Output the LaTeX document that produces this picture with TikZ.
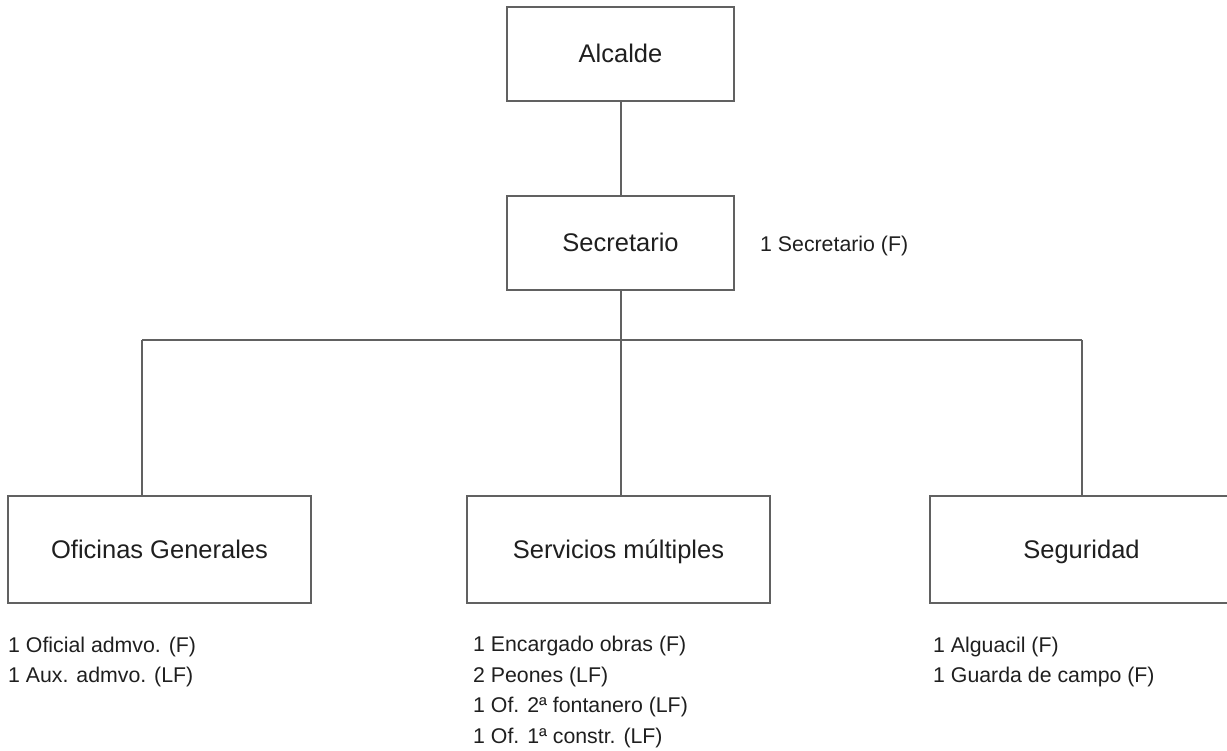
\documentclass[tikz,border=0pt]{standalone}
\usepackage{fontspec}
\setmainfont{Liberation Sans}
\begin{document}
\begin{tikzpicture}[x=1pt,y=-1pt,
  conn/.style={draw=black!62,line width=1.1pt},
  orgbox/.style={draw=black!62,line width=1.1pt,rectangle,inner sep=0pt,
    text=black!88,font=\fontsize{25.5}{30}\selectfont,text height=17.5pt,text depth=0pt},
  topbox/.style={orgbox,minimum width=227pt,minimum height=94pt},
  lowbox/.style={orgbox,minimum width=303pt,minimum height=107pt},
  staff/.style={anchor=base west,inner sep=0pt,text=black!88,font=\fontsize{21.3}{25}\selectfont}]
\useasboundingbox (0,0) rectangle (1227,751);
\node[topbox] (alc) at (620.5,54) {Alcalde};
\node[topbox] (sec) at (620.5,243) {Secretario};
\node[lowbox] (og) at (159.5,549.5) {Oficinas Generales};
\node[lowbox] (sm) at (618.5,549.5) {Servicios múltiples};
\node[lowbox] (seg) at (1081.5,549.5) {Seguridad};
\coordinate (j) at (621,340);
\coordinate (bl) at (142,340);
\coordinate (br) at (1082,340);
\draw[conn] (alc.south -| j) -- (sec.north -| j);
\draw[conn] (sec.south -| j) -- (j);
\draw[conn] (bl) -- (br);
\draw[conn] (bl) -- (bl |- og.north);
\draw[conn] (j) -- (j |- sm.north);
\draw[conn] (br) -- (br |- seg.north);
\node[staff] (s0) at (760,252) {1 Secretario (F)};
\node[staff] (o1) at (8,652) {1 Oficial admvo. (F)};
\node[staff] (o2) at (8,682) {1 Aux. admvo. (LF)};
\node[staff] (m1) at (473,651.5) {1 Encargado obras (F)};
\node[staff] (m2) at (473,682) {2 Peones (LF)};
\node[staff] (m3) at (473,712.5) {1 Of. 2ª fontanero (LF)};
\node[staff] (m4) at (473,743) {1 Of. 1ª constr. (LF)};
\node[staff] (g1) at (933,652) {1 Alguacil (F)};
\node[staff] (g2) at (933,682) {1 Guarda de campo (F)};
\end{tikzpicture}
\end{document}
